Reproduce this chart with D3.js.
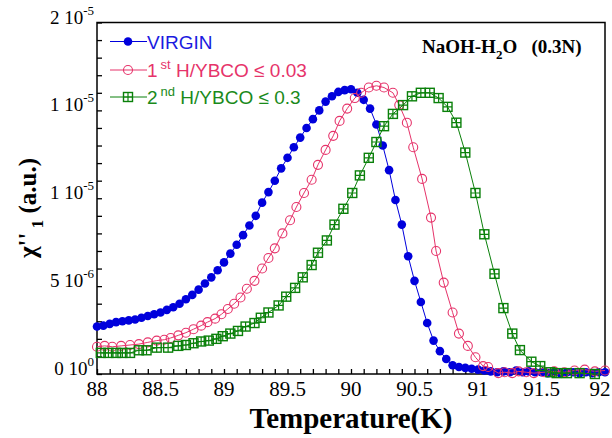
<!DOCTYPE html>
<html>
<head>
<meta charset="utf-8">
<script src="https://cdn.jsdelivr.net/npm/d3@7.9.0/dist/d3.min.js"></script>
<style>
  body { margin: 0; background: #fff; }
  svg { display: block; }
</style>
</head>
<body>
<div id="chart"></div>
<script>
// values in units of 1e-6 (a.u.)
const virginT = [88.00, 88.05, 88.10, 88.15, 88.20, 88.25, 88.30, 88.35, 88.40, 88.45, 88.50, 88.55, 88.60, 88.65, 88.70, 88.75, 88.80, 88.85, 88.90, 88.95,
  89.00, 89.05, 89.10, 89.15, 89.20, 89.25, 89.30, 89.35, 89.40, 89.45, 89.50, 89.55, 89.60, 89.65, 89.70, 89.75, 89.80, 89.85, 89.90, 89.95,
  90.00, 90.05, 90.10, 90.15, 90.20, 90.25, 90.30, 90.35, 90.40, 90.45, 90.50, 90.55, 90.60, 90.65, 90.70, 90.75, 90.80, 90.85, 90.90, 90.95,
  91.00, 91.05, 91.10, 91.15, 91.20, 91.25, 91.30, 91.35, 91.40, 91.45, 91.50, 91.55, 91.60, 91.65, 91.70, 91.75, 91.80, 91.85, 91.90, 91.95, 92.00];
const virginV = [2.7, 2.75, 2.85, 2.95, 3.0, 3.05, 3.1, 3.2, 3.3, 3.4, 3.5, 3.65, 3.8, 4.0, 4.25, 4.5, 4.8, 5.15, 5.5, 5.9,
  6.35, 6.85, 7.35, 7.9, 8.45, 9.0, 9.75, 10.35, 11.0, 11.7, 12.3, 12.9, 13.45, 14.0, 14.5, 15.0, 15.5, 15.8, 16.05, 16.15,
  16.2, 16.0, 15.6, 15.1, 14.2, 13.0, 11.6, 9.9, 8.5, 6.7, 5.3, 4.1, 2.9, 1.9, 1.3, 0.85, 0.5, 0.4, 0.35, 0.3,
  0.25, 0.2, 0.15, 0.1, 0.15, 0.1, 0.2, 0.1, 0.15, 0.1, 0.1, 0.05, 0.1, 0.05, 0.1, 0.1, 0.05, 0.1, 0.05, 0.1, 0.1];

const firstT = [88.00, 88.06, 88.12, 88.19, 88.26, 88.33, 88.40, 88.47, 88.53, 88.58, 88.64, 88.70, 88.76, 88.82, 88.87, 88.93, 88.98,
  89.03, 89.08, 89.13, 89.18, 89.24, 89.30, 89.35, 89.40, 89.46, 89.52, 89.57, 89.63, 89.69, 89.74, 89.80, 89.86, 89.91, 89.97,
  90.03, 90.08, 90.14, 90.20, 90.26, 90.33, 90.38, 90.44, 90.49, 90.56, 90.63, 90.67, 90.73, 90.80, 90.85, 90.92, 90.98,
  91.04, 91.08, 91.16, 91.21, 91.27, 91.32, 91.38, 91.44, 91.52, 91.60, 91.68, 91.76, 91.84, 91.92, 92.00];
const firstV = [1.55, 1.6, 1.55, 1.6, 1.65, 1.7, 1.8, 1.9, 1.95, 2.05, 2.2, 2.35, 2.55, 2.75, 2.95, 3.15, 3.4,
  3.7, 4.0, 4.35, 4.85, 5.3, 6.0, 6.6, 7.15, 8.0, 8.75, 9.5, 10.3, 11.05, 11.9, 12.75, 13.55, 14.4, 15.1,
  15.7, 16.0, 16.3, 16.4, 16.3, 16.0, 15.3, 14.3, 12.9, 11.1, 8.9, 7.0, 5.2, 3.5, 2.3, 1.6, 0.95,
  0.45, 0.4, 0.05, 0.1, 0.05, 0.15, 0.1, 0.05, 0.1, 0.15, 0.1, 0.2, 0.25, 0.15, 0.2];

const secondT = [88.03, 88.09, 88.15, 88.20, 88.26, 88.33, 88.39, 88.47, 88.56, 88.64, 88.70, 88.76, 88.82, 88.88, 88.94, 88.99,
  89.05, 89.11, 89.17, 89.24, 89.29, 89.35, 89.43, 89.49, 89.56, 89.62, 89.69, 89.74, 89.81, 89.87, 89.94,
  90.01, 90.07, 90.14, 90.20, 90.26, 90.33, 90.41, 90.48, 90.55, 90.62, 90.69, 90.76, 90.83, 90.90, 90.98,
  91.05, 91.13, 91.20, 91.27, 91.33, 91.42, 91.49, 91.57, 91.62, 91.70, 91.80, 91.92];
const secondV = [1.2, 1.2, 1.2, 1.2, 1.2, 1.35, 1.35, 1.5, 1.5, 1.6, 1.65, 1.75, 1.85, 1.9, 2.0, 2.15,
  2.3, 2.45, 2.7, 2.9, 3.2, 3.5, 3.9, 4.4, 4.9, 5.5, 6.2, 6.9, 7.6, 8.5, 9.4,
  10.3, 11.3, 12.3, 13.2, 14.1, 14.8, 15.3, 15.8, 16.0, 16.0, 15.7, 15.2, 14.3, 12.6, 10.3,
  7.95, 5.7, 3.75, 2.3, 1.36, 0.7, 0.45, 0.1, 0.05, 0.05, 0.05, 0.0];

const xTicks = [88, 88.5, 89, 89.5, 90, 90.5, 91, 91.5, 92];
const yTicks = [0, 5, 10, 15, 20];
const yTickMant = ['0', '5', '1', '1', '2'];
const yTickExp = ['0', '-6', '-5', '-5', '-5'];

const W = 612, H = 438;
const svg = d3.select('#chart').append('svg').attr('width', W).attr('height', H);

const x = d3.scaleLinear().domain([88, 92]).range([97, 605]);
const y = d3.scaleLinear().domain([0, 20]).range([374, 22.5]);

const serif = "'Liberation Serif', 'Times New Roman', serif";
const sans = "'Liberation Sans', Arial, sans-serif";

// minor ticks (inward)
svg.append('g')
  .attr('transform', `translate(0,${y(0)})`)
  .call(d3.axisBottom(x).tickValues(d3.range(0, 41).map(i => 88 + i * 0.1)).tickSize(-5).tickFormat(''))
  .call(g => g.select('.domain').remove());
svg.append('g')
  .attr('transform', `translate(${x(88)},0)`)
  .call(d3.axisLeft(y).tickValues(d3.range(0, 21)).tickSize(-5).tickFormat(''))
  .call(g => g.select('.domain').remove());
svg.selectAll('.tick line').attr('stroke', '#000').attr('stroke-width', 1.3);

// x tick labels
svg.append('g')
  .selectAll('text')
  .data(xTicks)
  .join('text')
  .attr('x', d => Math.min(x(d), 600))
  .attr('y', 396)
  .attr('text-anchor', 'middle')
  .style('font-family', serif)
  .style('font-size', '21px')
  .text(d => d);

// y tick labels
const yl = svg.append('g')
  .selectAll('text')
  .data(yTicks)
  .join('text')
  .attr('x', 94)
  .attr('y', d => y(d) + 1)
  .attr('text-anchor', 'end')
  .style('font-family', serif)
  .style('font-size', '19px');
yl.append('tspan').text((d, i) => yTickMant[i] + ' 10');
yl.append('tspan').attr('dy', -9).style('font-size', '13px').text((d, i) => yTickExp[i]);

// frame
svg.append('rect')
  .attr('x', x(88)).attr('y', y(20))
  .attr('width', x(92) - x(88)).attr('height', y(0) - y(20))
  .attr('fill', 'none').attr('stroke', '#000').attr('stroke-width', 1.5);

const line = d3.line().x(d => x(d[0])).y(d => y(d[1]));

const cBlue = '#0000dc', cPink = '#e6336a', cGreen = '#0a800a';

function series(T, V, color, marker) {
  const pts = T.map((t, i) => [t, V[i]]);
  const g = svg.append('g');
  g.append('path').datum(pts).attr('d', line)
    .attr('fill', 'none').attr('stroke', color).attr('stroke-width', 1);
  drawMarkers(g, pts, color, marker);
}

function drawMarkers(g, pts, color, marker) {
  if (marker === 'dot') {
    g.selectAll('circle').data(pts).join('circle')
      .attr('cx', d => x(d[0])).attr('cy', d => y(d[1])).attr('r', 4.3)
      .attr('fill', color);
  } else if (marker === 'ring') {
    g.selectAll('circle').data(pts).join('circle')
      .attr('cx', d => x(d[0])).attr('cy', d => y(d[1])).attr('r', 4.5)
      .attr('fill', 'none').attr('stroke', color).attr('stroke-width', 1.1);
  } else {
    const s = 4.5;
    const m = g.selectAll('g.m').data(pts).join('g').attr('class', 'm')
      .attr('transform', d => `translate(${x(d[0])},${y(d[1])})`);
    m.append('rect').attr('x', -s).attr('y', -s).attr('width', 2 * s).attr('height', 2 * s)
      .attr('fill', 'none').attr('stroke', color).attr('stroke-width', 1.4);
    m.append('path').attr('d', `M${-s},0H${s}M0,${-s}V${s}`)
      .attr('stroke', color).attr('stroke-width', 1.2);
  }
}

series(virginT, virginV, cBlue, 'dot');
series(firstT, firstV, cPink, 'ring');
series(secondT, secondV, cGreen, 'square');

// legend
const legend = [
  { y: 41.5, color: cBlue, marker: 'dot', tcolor: '#1a1ae0', main: 'VIRGIN', sup: '', rest: '' },
  { y: 70, color: cPink, marker: 'ring', tcolor: '#e6336a', main: '1', sup: 'st', rest: ' H/YBCO \u2264 0.03' },
  { y: 97, color: cGreen, marker: 'square', tcolor: '#1a8a1a', main: '2', sup: 'nd', rest: ' H/YBCO \u2264 0.3' }
];
legend.forEach(l => {
  const g = svg.append('g');
  g.append('line').attr('x1', 110).attr('x2', 147).attr('y1', l.y).attr('y2', l.y)
    .attr('stroke', l.color).attr('stroke-width', 1);
  drawMarkers(g, [[x.invert(128), y.invert(l.y)]], l.color, l.marker);
  const t = g.append('text').attr('x', 147).attr('y', l.y + 7)
    .style('font-family', sans).style('font-size', '19px').attr('fill', l.tcolor);
  t.append('tspan').text(l.main);
  if (l.sup) {
    t.append('tspan').attr('dx', 3).attr('dy', -8).style('font-size', '13px').text(l.sup);
    t.append('tspan').attr('dy', 8).text(l.rest);
  }
});

// annotation
const ann = svg.append('text').attr('x', 422).attr('y', 53)
  .style('font-family', serif).style('font-size', '19px').style('font-weight', 'bold');
ann.append('tspan').text('NaOH-H');
ann.append('tspan').attr('dy', 6).style('font-size', '13px').text('2');
ann.append('tspan').attr('dy', -6).text('O\u00a0\u00a0\u00a0(0.3N)');

// axis titles
svg.append('text')
  .attr('x', 351).attr('y', 428)
  .attr('text-anchor', 'middle')
  .style('font-family', serif).style('font-size', '29px').style('font-weight', 'bold')
  .text('Temperature(K)');

const yt = svg.append('text')
  .attr('transform', 'translate(36,208) rotate(-90)')
  .attr('text-anchor', 'middle')
  .style('font-family', serif).style('font-size', '25px').style('font-weight', 'bold');
yt.append('tspan').text('\u03c7\'\'');
yt.append('tspan').attr('dy', 7).style('font-size', '17px').text(' 1');
yt.append('tspan').attr('dy', -7).text(' (a.u.)');
</script>
</body>
</html>
